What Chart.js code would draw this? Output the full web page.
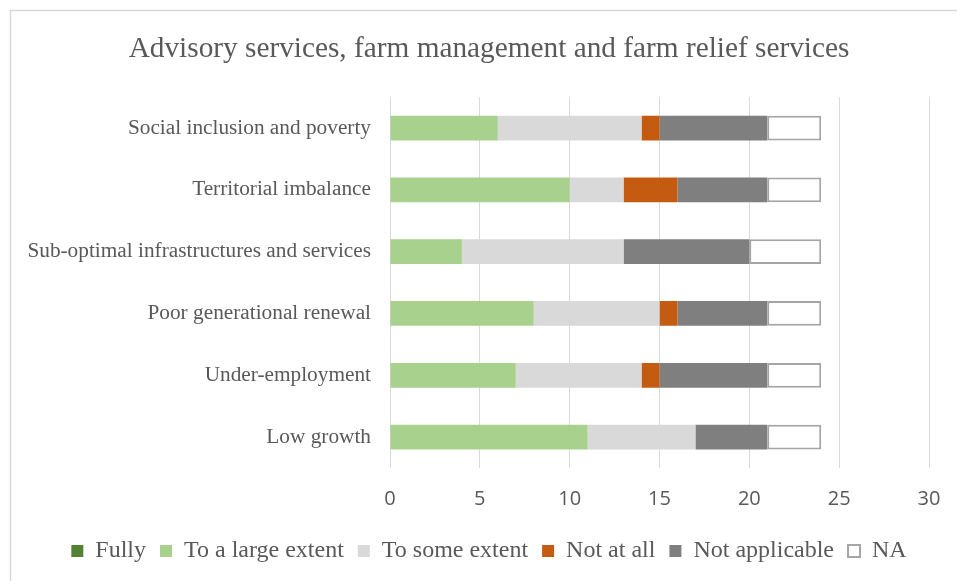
<!DOCTYPE html>
<html>
<head>
<meta charset="utf-8">
<script src="https://cdn.jsdelivr.net/npm/chart.js@4/dist/chart.umd.min.js"></script>
<style>
  html, body { margin: 0; padding: 0; background: #ffffff; overflow: hidden; }
  #wrap { position: relative; width: 978px; height: 581px; }
</style>
</head>
<body>
<div id="wrap"><canvas id="c" width="978" height="581"></canvas></div>
<script>
// Categories (top to bottom)
const categories = [
  "Social inclusion and poverty",
  "Territorial imbalance",
  "Sub-optimal infrastructures and services",
  "Poor generational renewal",
  "Under-employment",
  "Low growth"
];

// Number of responses per answer
const fully         = [0, 0, 0, 0, 0, 0];
const largeExtent   = [6, 10, 4, 8, 7, 11];
const someExtent    = [8, 3, 9, 7, 7, 6];
const notAtAll      = [1, 3, 0, 1, 1, 0];
const notApplicable = [6, 5, 7, 5, 6, 4];
const notAnswered   = [3, 3, 4, 3, 3, 3];

const seriesNames = ["Fully", "To a large extent", "To some extent", "Not at all", "Not applicable", "NA"];
const xTicks = [0, 5, 10, 15, 20, 25, 30];

const TEXT = "#595959";
const GRID = "#d9d9d9";

// Light frame around the chart
const framePlugin = {
  id: "frame",
  beforeDraw(chart) {
    const ctx = chart.ctx;
    ctx.save();
    ctx.fillStyle = "#ffffff";
    ctx.fillRect(0, 0, chart.width, chart.height);
    ctx.strokeStyle = GRID;
    ctx.lineWidth = 1.5;
    ctx.strokeRect(10.5, 10.5, chart.width - 21, chart.height + 20);
    ctx.restore();
  }
};

function ds(label, data, bg, border, bw) {
  return {
    label: label,
    data: data,
    backgroundColor: bg,
    borderColor: border,
    borderWidth: bw,
    borderSkipped: false,
    barPercentage: 0.4,
    categoryPercentage: 1.0
  };
}

new Chart(document.getElementById("c"), {
  type: "bar",
  data: {
    labels: categories,
    datasets: [
      ds(seriesNames[0], fully, "#548235", "#548235", 0),
      ds(seriesNames[1], largeExtent, "#a9d18e", "#a9d18e", 0),
      ds(seriesNames[2], someExtent, "#d9d9d9", "#d9d9d9", 0),
      ds(seriesNames[3], notAtAll, "#c55a11", "#c55a11", 0),
      ds(seriesNames[4], notApplicable, "#7f7f7f", "#7f7f7f", 0),
      ds(seriesNames[5], notAnswered, "#ffffff", "#a5a5a5", 2)
    ]
  },
  options: {
    indexAxis: "y",
    responsive: false,
    animation: false,
    devicePixelRatio: 1,
    layout: { padding: { top: 0, right: 0, bottom: 8, left: 0 } },
    scales: {
      x: {
        stacked: true,
        min: 0,
        max: 30,
        afterBuildTicks(scale) {
          scale.ticks = xTicks.map(v => ({ value: v }));
        },
        afterFit(scale) { scale.height = 57; },
        grid: { color: GRID, lineWidth: 1, drawTicks: false },
        border: { display: false },
        ticks: {
          padding: 19,
          color: TEXT,
          font: { family: "'Open Sans'", size: 20 }
        }
      },
      y: {
        stacked: true,
        afterFit(scale) { scale.width = 390; },
        grid: { display: false, drawTicks: false },
        border: { display: false },
        ticks: {
          padding: 19,
          color: TEXT,
          font: { family: "'Liberation Serif'", size: 21.3 }
        }
      },
      // empty right-hand margin of the plot
      yRight: {
        type: "category",
        position: "right",
        afterFit(scale) { scale.width = 49; },
        grid: { display: false, drawTicks: false },
        border: { display: false },
        ticks: { display: false }
      }
    },
    plugins: {
      title: {
        display: true,
        text: "Advisory services, farm management and farm relief services",
        color: TEXT,
        font: { family: "'Liberation Serif'", size: 29.3, weight: "normal" },
        padding: { top: 32, bottom: 30 }
      },
      legend: {
        position: "bottom",
        labels: {
          color: TEXT,
          font: { family: "'Liberation Serif'", size: 24 },
          boxWidth: 12,
          boxHeight: 12,
          padding: 14
        }
      },
      tooltip: { enabled: false }
    }
  },
  plugins: [framePlugin]
});
</script>
</body>
</html>
